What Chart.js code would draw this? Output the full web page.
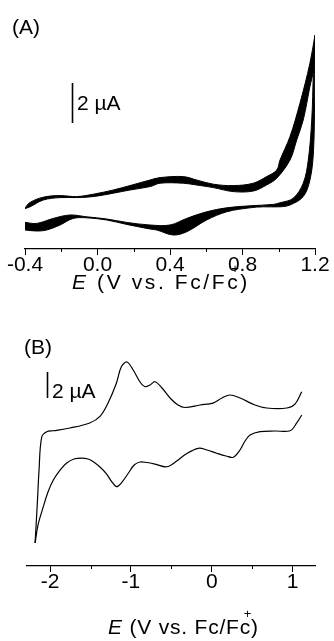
<!DOCTYPE html>
<html lang="en">
<head>
<meta charset="UTF-8" />
<title>Cyclic voltammograms</title>
<script src="https://cdn.jsdelivr.net/npm/chart.js"></script>
<style>
  body { margin:0; background:#fff; font-family:"Liberation Sans", Arial, sans-serif; color:#000; }
  .wrap { position:relative; width:334px; height:641px; }
  canvas { position:absolute; left:0; }
  .lbl { position:absolute; font-size:21px; line-height:21px; white-space:nowrap; }
  .cp { position:relative; }
  .plus { position:absolute; left:4px; top:-8px; font-size:13px; line-height:13px; }
</style>
</head>
<body>
<div class="wrap">
  <canvas id="cvA" width="334" height="294" style="top:0"></canvas>
  <canvas id="cvB" width="334" height="340" style="top:300px"></canvas>

  <div class="lbl" style="left:12px;top:16px">(A)</div>
  <div class="lbl" style="left:77px;top:92px">2 &micro;A</div>
  <div class="lbl" style="left:72px;top:271px;letter-spacing:2.6px"><i>E</i> (V vs. Fc/F<span class="cp">c<span class="plus">+</span></span>)</div>

  <div class="lbl" style="left:24px;top:336px">(B)</div>
  <div class="lbl" style="left:52px;top:380px">2 &micro;A</div>
  <div class="lbl" style="left:108px;top:616px;letter-spacing:0.8px"><i>E</i> (V vs. Fc/F<span class="cp">c<span class="plus">+</span></span>)</div>
</div>

<script>
// (A) repeated scans, -0.4 .. 1.2 V : edges of the band of cycles (V, uA)
const aOutE = [-0.4, -0.372, -0.299, -0.207, -0.115, -0.023, 0.087, 0.179, 0.29, 0.345, 0.473, 0.547, 0.639, 0.749, 0.86, 0.933, 0.989, 1.007, 1.062, 1.117, 1.172, 1.2];
const aOutI = [-0.39, -0.12, 0.14, 0.22, 0.17, 0.29, 0.5, 0.72, 1.0, 1.12, 1.17, 1.0, 0.79, 0.72, 0.84, 1.17, 1.5, 2.0, 3.17, 4.84, 6.84, 8.25];
const aInE = [-0.4, -0.372, -0.299, -0.207, -0.115, -0.023, 0.087, 0.179, 0.29, 0.345, 0.473, 0.547, 0.639, 0.749, 0.86, 0.933, 0.989, 1.062, 1.099, 1.135, 1.172, 1.191, 1.2];
const aInI = [-0.43, -0.34, 0.0, 0.12, 0.12, 0.17, 0.34, 0.5, 0.67, 0.84, 0.84, 0.75, 0.62, 0.42, 0.45, 0.75, 1.09, 2.0, 3.0, 4.0, 5.67, 6.5, 8.2];
const cInE = [-0.4, -0.335, -0.244, -0.152, -0.06, 0.051, 0.161, 0.29, 0.4, 0.492, 0.602, 0.713, 0.841, 0.97, 1.007, 1.08, 1.135, 1.163, 1.182, 1.191, 1.2];
const cInI = [-1.12, -1.17, -0.92, -0.75, -0.84, -0.95, -1.12, -1.25, -1.25, -0.92, -0.59, -0.39, -0.29, -0.22, -0.14, 0.09, 0.84, 2.0, 4.0, 6.34, 8.2];
const cOutE = [-0.4, -0.335, -0.28, -0.207, -0.134, -0.06, 0.051, 0.161, 0.29, 0.327, 0.418, 0.492, 0.602, 0.713, 0.841, 0.915, 1.007, 1.062, 1.135, 1.172, 1.191, 1.198, 1.2];
const cOutI = [-1.5, -1.55, -1.5, -1.25, -0.92, -0.89, -1.0, -1.22, -1.45, -1.5, -1.75, -1.59, -1.0, -0.59, -0.39, -0.34, -0.34, -0.25, 0.17, 1.0, 2.35, 5.0, 8.25];

// (B) single scan, -2.2 .. 1.1 V
const bUpE = [-2.186, -2.158, -2.137, -2.104, -2.042, -1.96, -1.756, -1.51, -1.38, -1.283, -1.18, -1.12, -1.05, -0.97, -0.887, -0.826, -0.764, -0.702, -0.615, -0.516, -0.417, -0.33, -0.145, 0.016, 0.127, 0.226, 0.35, 0.535, 0.68, 0.93, 1.03, 1.114];
const bUpI = [-6.38, -3.31, -0.77, 1.77, 2.18, 2.25, 2.46, 2.85, 3.38, 4.38, 5.9, 7.15, 7.54, 6.9, 6.0, 5.64, 5.77, 6.02, 5.54, 4.77, 4.23, 4.04, 4.23, 4.38, 4.77, 5.0, 4.77, 4.23, 4.0, 4.0, 4.3, 5.25];
const bLoE = [-2.186, -2.15, -2.084, -2.026, -1.96, -1.877, -1.795, -1.705, -1.61, -1.53, -1.465, -1.383, -1.3, -1.235, -1.177, -1.12, -1.03, -0.96, -0.887, -0.805, -0.702, -0.557, -0.433, -0.318, -0.166, -0.058, 0.062, 0.177, 0.267, 0.35, 0.412, 0.474, 0.598, 0.783, 0.969, 1.052, 1.114];
const bLoI = [-6.38, -5.0, -3.59, -2.46, -1.54, -0.77, -0.23, 0.08, 0.15, 0.08, -0.13, -0.54, -1.08, -1.69, -2.05, -1.77, -1.0, -0.38, -0.15, -0.19, -0.31, -0.52, -0.08, 0.46, 0.9, 0.77, 0.52, 0.31, 0.21, 0.77, 1.46, 1.92, 2.18, 2.23, 2.25, 2.85, 3.46];

// axis ticks
const ticksA = [-0.4, 0.0, 0.4, 0.8, 1.2];
const minorA = [-0.2, 0.2, 0.6, 1.0];
const ticksB = [-2, -1, 0, 1];
const minorB = [-1.5, -0.5, 0.5];

Chart.defaults.font.family = '"Liberation Sans", Arial, sans-serif';
Chart.defaults.color = '#000';

const pts = (xs, ys) => xs.map((x, i) => ({ x, y: ys[i] }));

// minor ticks under the axis + the 2 uA scale bar
const extras = {
  id: 'extras',
  afterDraw(chart, args, opts) {
    const { ctx } = chart;
    const x = chart.scales.x, y = chart.scales.y;
    ctx.save();
    ctx.strokeStyle = '#000';
    ctx.lineWidth = 1;
    opts.minor.forEach(v => {
      const px = Math.round(x.getPixelForValue(v)) + 0.5;
      ctx.beginPath();
      ctx.moveTo(px, x.top);
      ctx.lineTo(px, x.top + 3);
      ctx.stroke();
    });
    const bx = Math.round(x.getPixelForValue(opts.barX)) + 0.5;
    ctx.lineWidth = 1.6;
    ctx.beginPath();
    ctx.moveTo(bx, y.getPixelForValue(opts.barFrom));
    ctx.lineTo(bx, y.getPixelForValue(opts.barFrom + 2));
    ctx.stroke();
    ctx.restore();
  }
};

function xAxis(min, max, list, fmt) {
  return {
    type: 'linear', min, max,
    afterFit: s => { s.height = 45; },
    afterBuildTicks: s => { s.ticks = list.map(v => ({ value: v })); },
    ticks: { callback: fmt, font: { size: 21 }, padding: -2, maxRotation: 0, autoSkip: false, color: '#000' },
    grid: { drawOnChartArea: false, drawTicks: true, tickLength: 6, tickColor: '#000', tickWidth: 1 },
    border: { display: true, color: '#000', width: 1.2 }
  };
}

const line = (data, extra) => Object.assign({
  data, borderColor: '#000', borderWidth: 1, pointRadius: 0, tension: 0.35, fill: false
}, extra);

new Chart(document.getElementById('cvA'), {
  type: 'line',
  data: {
    datasets: [
      line(pts(aOutE, aOutI)),
      line(pts(aInE, aInI), { fill: '-1', backgroundColor: '#000' }),
      line(pts(cOutE, cOutI)),
      line(pts(cInE, cInI), { fill: '-1', backgroundColor: '#000' })
    ]
  },
  options: {
    responsive: false, animation: false,
    layout: { padding: { left: 25, right: 19, top: 30, bottom: 0 } },
    plugins: { legend: { display: false }, tooltip: { enabled: false },
      extras: { minor: minorA, barX: -0.141, barFrom: 3.85 } },
    scales: {
      x: xAxis(-0.4, 1.2, ticksA, v => v.toFixed(1)),
      y: { display: false, min: -2.45, max: 8.5 }
    }
  },
  plugins: [extras]
});

new Chart(document.getElementById('cvB'), {
  type: 'line',
  data: {
    datasets: [
      line(pts(bUpE, bUpI), { borderWidth: 1.2 }),
      line(pts(bLoE, bLoI), { borderWidth: 1.2 })
    ]
  },
  options: {
    responsive: false, animation: false,
    layout: { padding: { left: 27, right: 19, top: 50, bottom: 29 } },
    plugins: { legend: { display: false }, tooltip: { enabled: false },
      extras: { minor: minorB, barX: -2.042, barFrom: 4.77 } },
    scales: {
      x: xAxis(-2.286, 1.278, ticksB, v => String(v)),
      y: { display: false, min: -8.15, max: 8.46 }
    }
  },
  plugins: [extras]
});
</script>
</body>
</html>
